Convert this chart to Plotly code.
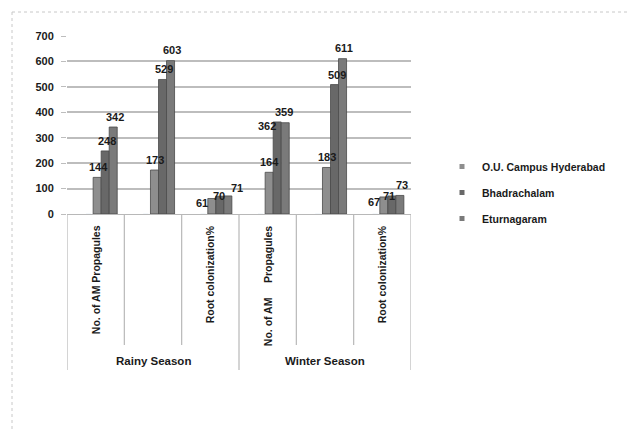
import plotly.graph_objects as go

# ---------------- data ----------------
seasons = ["Rainy Season", "Winter Season"]
sub_labels = ["No. of AM Propagules", "", "Root colonization%",
              "No. of AM\u00a0\u00a0\u00a0\u00a0 Propagules", "", "Root colonization%"]
series_names = ["O.U. Campus Hyderabad", "Bhadrachalam", "Eturnagaram"]
zero_series = [0, 0, 0, 0, 0, 0]
ou_campus = [144, 173, 61, 164, 183, 67]
bhadrachalam = [248, 529, 70, 362, 509, 71]
eturnagaram = [342, 603, 71, 359, 611, 73]
y_ticks = [0, 100, 200, 300, 400, 500, 600, 700]

# ---------------- style ----------------
FONT = "Liberation Sans, Arial, sans-serif"
colors = ["#8e8e8e", "#686868", "#7a7a7a"]
bar_width = 0.14
bar_offsets = [-0.044, 0.096, 0.236]
# per-label shifts (px) to mimic the 3D label placement: [series][category]
label_xshift = [[1, 1, -10, 0, 1, -10],
                [2, 1, -1, -10, 2, -3],
                [2, 1, 9, -1, 1, 2]]
label_yshift = [[10, 10, -5, 10, 10, -5],
                [10, 10, 0, -4, 10, 0],
                [10, 11, 8, 11, 11, 10]]

cats = list(range(len(sub_labels)))
values = [ou_campus, bhadrachalam, eturnagaram]

fig = go.Figure()

# zero-valued leading series (occupies first slot in each group)
fig.add_trace(go.Bar(x=cats, y=zero_series, width=0.09, offset=-0.17,
                     marker=dict(color="#333333"), showlegend=False,
                     hoverinfo="skip"))

for k, (name, vals) in enumerate(zip(series_names, values)):
    fig.add_trace(go.Bar(
        x=cats, y=vals, name=name, width=bar_width, offset=bar_offsets[k],
        marker=dict(color=colors[k], line=dict(color="#4a4a4a", width=0.8)),
        showlegend=False))
    # legend entry (small square swatch)
    fig.add_trace(go.Scatter(
        x=[None], y=[None], mode="markers", name=name, legendgroup=name,
        marker=dict(symbol="square", size=5, color=colors[k])))
    for i, v in enumerate(vals):
        fig.add_annotation(
            x=i + bar_offsets[k] + bar_width / 2, y=v, text=str(v),
            showarrow=False, xref="x", yref="y", yanchor="middle",
            xshift=label_xshift[k][i], yshift=label_yshift[k][i],
            font=dict(family=FONT, size=11, color="#1a1a1a", weight="bold"))

# ---------------- category axis decoration ----------------
PX_PER_PAPER = 178.0
def py(pixel_y):
    return (214 - pixel_y) / PX_PER_PAPER

boundaries = [i - 0.5 for i in range(len(cats) + 1)]
for b in boundaries:
    outer = b in (-0.5, 2.5, 5.5)
    fig.add_shape(type="line", xref="x", yref="paper", x0=b, x1=b,
                  y0=py(215), y1=py(370 if outer else 345),
                  line=dict(color="#b8b8b8", width=1.2))

for i, lab in enumerate(sub_labels):
    if lab:
        fig.add_annotation(x=i, y=py(223), xref="x", yref="paper", text=lab,
                           textangle=-90, showarrow=False, yanchor="top",
                           xanchor="center",
                           font=dict(family=FONT, size=10.5, color="#1a1a1a",
                                     weight="bold"))

for j, s in enumerate(seasons):
    fig.add_annotation(x=1 + 3 * j, y=py(361), xref="x", yref="paper", text=s,
                       showarrow=False, yanchor="middle", xanchor="center",
                       font=dict(family=FONT, size=11.5, color="#1a1a1a",
                                 weight="bold"))

# dotted outer border (top and left)
fig.add_shape(type="line", xref="paper", yref="paper",
              x0=(12 - 67) / 344, x1=(629 - 67) / 344, y0=py(12), y1=py(12),
              line=dict(color="#c8c8c8", width=1, dash="dot"))
fig.add_shape(type="line", xref="paper", yref="paper",
              x0=(12 - 67) / 344, x1=(12 - 67) / 344, y0=py(12), y1=py(432),
              line=dict(color="#c8c8c8", width=1, dash="dot"))

fig.update_layout(
    width=629, height=432,
    margin=dict(l=67, r=629 - 411, t=36, b=432 - 214, pad=0),
    paper_bgcolor="white", plot_bgcolor="white",
    barmode="overlay",
    font=dict(family=FONT, color="#1a1a1a"),
    xaxis=dict(range=[-0.5, 5.5], showticklabels=False, showgrid=False,
               zeroline=False, showline=True, linecolor="#b8b8b8",
               linewidth=1.2, fixedrange=True),
    yaxis=dict(range=[0, 700], tickvals=y_ticks, showgrid=True,
               gridcolor="#bdbdbd", gridwidth=1.5, zeroline=False,
               ticks="outside", ticklen=5, tickcolor="#bdbdbd",
               ticklabelstandoff=5,
               tickfont=dict(family=FONT, size=11, color="#1a1a1a",
                             weight="bold")),
    legend=dict(x=(442 - 67) / 344, y=py(152), xanchor="left", yanchor="top",
                tracegroupgap=7, itemwidth=30,
                font=dict(family=FONT, size=10.5, color="#1a1a1a",
                          weight="bold"),
                bgcolor="rgba(0,0,0,0)"),
    showlegend=True,
)

fig.write_html("out.html")
